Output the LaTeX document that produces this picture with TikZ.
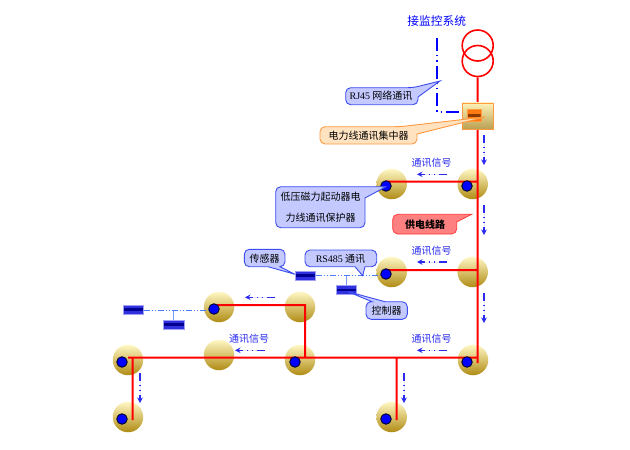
\documentclass[tikz,border=0pt]{standalone}
\usepackage{fontspec}
\setmainfont{Noto Sans CJK SC}
\newfontfamily\latfont{Liberation Serif}
\usetikzlibrary{arrows.meta}
\definecolor{sigblue}{HTML}{2A2AF0}
\definecolor{linkblue}{HTML}{4A7CFF}
\definecolor{stubblue}{HTML}{7A9CFF}
\definecolor{coblue}{HTML}{C4CAFF}
\definecolor{coedge}{HTML}{3C4CF0}
\definecolor{coorange}{HTML}{FFE2C0}
\definecolor{orangeedge}{HTML}{FF9A40}
\definecolor{ballTop}{HTML}{FFF7C4}
\definecolor{ballMid}{HTML}{FCE68E}
\definecolor{ballBot}{HTML}{B08C14}
\definecolor{barEdge}{HTML}{3030E0}
\definecolor{barMid}{HTML}{000090}
\definecolor{barHalo}{HTML}{A0A0F4}
\definecolor{boxTop}{HTML}{FDF2B8}
\definecolor{boxBot}{HTML}{B89E50}
\definecolor{innerTop}{HTML}{FF7A10}
\definecolor{innerMid}{HTML}{8A3A00}
\tikzset{
  x=1pt,y=-1pt,
  gold/.style={circle,minimum size=30.5pt,inner sep=0pt,shading=axis,top color=ballTop,middle color=ballMid,bottom color=ballBot},
  dotn/.style={circle,minimum size=10.5pt,inner sep=0pt,fill=blue,draw=black!85!blue,line width=.9pt},
  power/.style={draw=red,line width=2pt},
  xf/.style={circle,draw=red,line width=1.6pt,minimum size=31pt,inner sep=0pt},
  mon/.style={draw=blue,line width=1.3pt,dash pattern=on 13pt off 4pt on 1.3pt off 4pt on 1.3pt off 4pt},
  sig/.style={draw=sigblue,fill=sigblue,line width=1.1pt,dash pattern=on 8pt off 4pt on 1.1pt off 4pt on 1.1pt off 4pt,-{Stealth[length=5.5pt,width=5.5pt]}},
  bar/.style={minimum width=20.5pt,minimum height=8.5pt,inner sep=0pt,fill=barEdge,draw=barHalo,line width=.5pt,
    path picture={\fill[barMid] ([yshift=2.8pt]path picture bounding box.south west) rectangle ([yshift=-3pt]path picture bounding box.north east);}},
  innerbox/.style={draw=orangeedge,minimum width=14pt,minimum height=12.5pt,inner sep=0pt,fill=innerTop,
    path picture={\fill[innerMid] ([yshift=5pt]path picture bounding box.south west) rectangle ([yshift=-5pt]path picture bounding box.north east);}},
  lab/.style={text=sigblue,font=\fontsize{10}{12}\selectfont,inner sep=0pt},
  cotext/.style={font=\fontsize{10}{12}\selectfont,inner sep=0pt,align=center,text=black},
  coB/.style={draw=coedge,fill=coblue,line width=.9pt},
  coO/.style={draw=orangeedge,fill=coorange,line width=.9pt},
  coR/.style={draw=red!80,fill=red!50!white,line width=.7pt},
  rc/.style={rounded corners=5pt}
}
\begin{document}
\begin{tikzpicture}
\useasboundingbox (0,0) rectangle (630,450);
% balls
\foreach \n/\x/\y in {b1/391.7/184,b2/472.7/184,b3/391.7/272,b4/472.7/272,
  b5/219/307,b6/300/307,b7/128/360,b8/219/355,b9/300/360,b10/473/360,
  b11/128/417,b12/391.7/417}
  \node[gold] (\n) at (\x,\y) {};
% transformer
\node[xf] (t1) at (477.7,45.5) {};
\node[xf] (t2) at (477.7,61) {};
% junction coordinates
\coordinate (j0) at (477.5,129);
\coordinate (jEnd) at (477.5,363);
\coordinate (r1a) at (386,181.7); \coordinate (r1b) at (477.5,181.7);
\coordinate (r2a) at (386,270); \coordinate (r2b) at (477.5,270);
\coordinate (r3a) at (128,357.7); \coordinate (r3b) at (477.5,357.7);
\coordinate (lv1) at (132.7,357.7); \coordinate (lv2) at (132.7,420);
\coordinate (mv1) at (396.7,357.7); \coordinate (mv2) at (396.7,420);
\coordinate (u1) at (214,305); \coordinate (u2) at (305,305); \coordinate (u3) at (305,357.7);
\coordinate (tbox) at (477.5,103);
% power lines
\path[power] (t2.south) -- (tbox) (j0) -- (jEnd) (r1a) -- (r1b) (r2a) -- (r2b)
  (r3a) -- (r3b) (lv1) -- (lv2) (mv1) -- (mv2) (u1) -- (u2) -- (u3);
% sensor links (dash-dot-dot runs, filled)
\foreach \sx/\sy in {315.5/275,143.5/310}
  \foreach \k in {0,...,4} {
    \fill[linkblue] ({\sx+\k*14},\sy) rectangle +(6,1);
    \fill[linkblue] ({\sx+\k*14+8.5},\sy) rectangle +(1.4,1);
    \fill[linkblue] ({\sx+\k*14+11.5},\sy) rectangle +(1.4,1);
  }
\fill[stubblue] (345.5,276) rectangle (346.5,285.5);
\fill[stubblue] (173,311) rectangle (174,320);
% blue dots
\foreach \n/\x/\y in {d1/386/186,d2/467/186,d3/386/274,d5/214/309,d7/122/362,
  d9/295/362,d10/467/362,d11/122/419,d12/386/419}
  \node[dotn] (\n) at (\x,\y) {};
% sensors
\node[bar] (s1) at (305.3,275.5) {};
\node[bar] (s2) at (346,289.8) {};
\node[bar] (s3) at (133,309.5) {};
\node[bar] (s4) at (173.5,324.5) {};
% concentrator
\node[draw=orangeedge,line width=.9pt,minimum width=31pt,minimum height=26.5pt,inner sep=0pt,
  shading=axis,top color=boxTop,bottom color=boxBot] (box) at (478.2,116.2) {};
\node[innerbox] (inner) at (473.7,115.3) {};
% monitoring link
\node[text=blue,font=\fontsize{11.7}{14}\selectfont,inner sep=0pt] (mon) at (436.7,21.3) {接监控系统};
\coordinate (m0) at (437,38);
\coordinate (m1) at (437,112);
\path[mon] (m0) -- (m1) -- (box.west |- m1);
% signal arrows, vertical
\foreach \x/\ya/\yb in {484/135/165,484/205/235,484/293/323,140/373/403,404/373/403}
  \path[sig] (\x,\ya) -- (\x,\yb);
% signal arrows, horizontal
\foreach \xa/\xb/\y in {447/417/174.3,447/417/262,447/417/350.3,275/245/297.3,265/235/350.3}
  \path[sig] (\xa,\y) -- (\xb,\y);
\node[lab] (l1) at (431.7,162.3) {通讯信号};
\node[lab] (l2) at (431.7,250.7) {通讯信号};
\node[lab] (l3) at (431.7,338.3) {通讯信号};
\node[lab] (l4) at (249,338.3) {通讯信号};
% callouts
\draw[coB] (400,87.7) [rc] -- (413,87.7) [sharp corners] -- (440,81) -- (418,97) [rc] -- (418,104.7) -- (345.7,104.7) -- (345.7,87.7) -- cycle;
\node[cotext] (c1) at (381,96) {{\latfont RJ45} 网络通讯};
\draw[coO] (370,126.7) [rc] -- (400,126.7) [sharp corners] -- (485,117) -- (417,134) [rc] -- (417,144) -- (320,144) -- (320,126.7) -- cycle;
\node[cotext] (c2) at (368.5,135.5) {电力线通讯集中器};
\draw[coB] (320,186.7) [rc] -- (357,186.7) [sharp corners] -- (386,186.7) -- (365,198) [rc] -- (365,227.7) -- (275.7,227.7) -- (275.7,186.7) -- cycle;
\node[cotext,font=\fontsize{10}{21}\selectfont] (c3) at (320.5,207) {低压磁力起动器电\\力线通讯保护器};
\draw[coR] (420,214.3) [rc] -- (445,214.3) [sharp corners] -- (471.7,214.3) -- (456.7,222) [rc] -- (456.7,234) -- (392.7,234) -- (392.7,214.3) -- cycle;
\node[cotext,text=black,font=\bfseries\fontsize{10}{12}\selectfont] (c4) at (425,224.5) {供电线路};
\draw[coB] (340,250) [rc] -- (376.7,250) -- (376.7,266.7) [sharp corners] -- (365,266.7) -- (362.7,275.7) -- (355,266.7) [rc] -- (305,266.7) -- (305,250) -- cycle;
\node[cotext] (c5) at (340.5,258.7) {{\latfont RS485} 通讯};
\draw[coB] (265,249.3) [rc] -- (285,249.3) -- (285,266.7) [sharp corners] -- (280,266.7) -- (295,274.3) -- (268,266.7) [rc] -- (244.3,266.7) -- (244.3,249.3) -- cycle;
\node[cotext] (c6) at (264.7,258.5) {传感器};
\draw[coB] (390,301.7) [rc] -- (407.3,301.7) -- (407.3,319.3) -- (366,319.3) -- (366,301.7) [sharp corners] -- (372,301.7) -- (348,291.7) -- (385,301.7) [rc] -- cycle;
\node[cotext] (c7) at (386.7,311) {控制器};
\end{tikzpicture}
\end{document}
